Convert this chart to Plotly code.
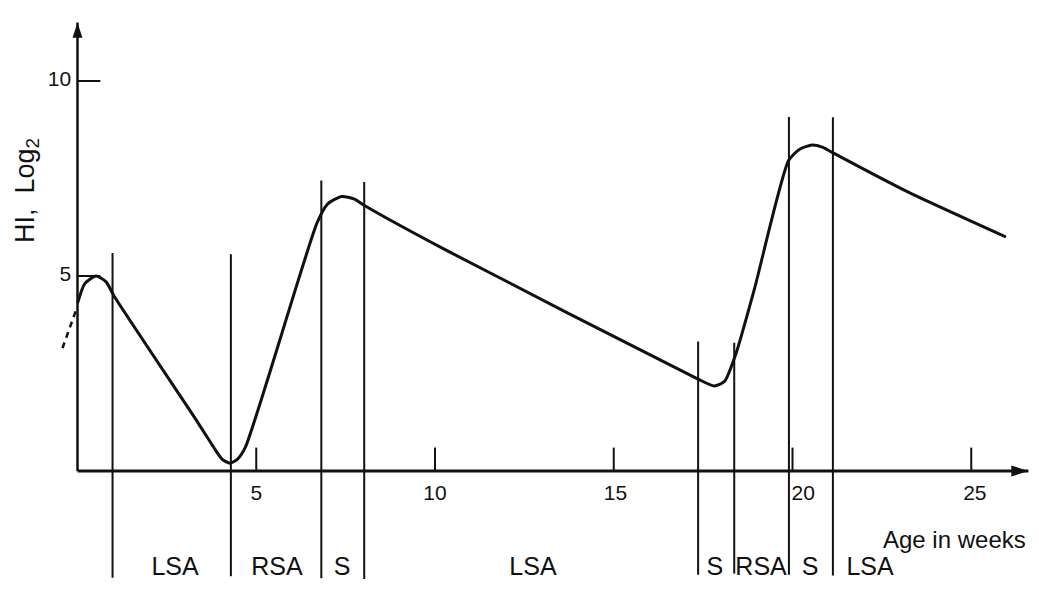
import plotly.graph_objects as go

# ---- data ----
curve_weeks = [0.0, 0.2, 0.52, 0.8, 1.04, 3.39, 3.85, 4.05, 4.26, 4.47, 4.7, 6.7, 7.0, 7.39, 7.75, 8.04,
               10.23, 17.33, 17.81, 18.1, 18.43, 18.93, 19.89, 20.2, 20.55, 20.85, 21.11, 23.24, 25.97]
curve_hi = [4.3, 4.8, 5.0, 4.85, 4.46, 1.21, 0.55, 0.3, 0.2, 0.3, 0.62, 6.36, 6.85, 7.04, 6.97, 6.8,
            5.70, 2.37, 2.18, 2.3, 3.04, 4.65, 7.96, 8.25, 8.36, 8.3, 8.17, 7.15, 6.0]

dashed_weeks = [-0.42, -0.05]
dashed_hi = [3.15, 4.1]

phase_line_weeks = [0.98, 4.29, 6.82, 8.02, 17.36, 18.37, 19.9, 21.13]
phase_line_top = [5.59, 5.56, 7.45, 7.41, 3.32, 3.29, 9.08, 9.07]
phase_line_bottom = [-2.74, -2.70, -2.75, -2.77, -2.66, -2.63, -2.66, -2.68]

phase_labels = ["LSA", "RSA", "S", "LSA", "S", "RSA", "S", "LSA"]
phase_label_weeks = [2.73, 5.58, 7.4, 12.74, 17.83, 19.12, 20.49, 22.17]

x_ticks = [5, 10, 15, 20, 25]
x_tick_labels = ["5", "10", "15", "20", "25"]
x_tick_label_pos = [5, 10, 15.05, 20.3, 25.1]

y_ticks = [5, 10]
y_tick_labels = ["5", "10"]

x_axis_end = 26.6
y_axis_end = 11.5

# ---- styling / layout geometry ----
INK = "#111111"
FONT = "Liberation Sans"
LABEL_Y = -2.5
TICK_LEN_X = 0.6
TICK_LEN_Y = 0.64
W, H = 1023, 578          # page body keeps an 8px margin
PX_W, PX_V = 35.75, 39.0  # pixels per week / per log2 unit
X0, Y0 = 69.5, 463.0      # figure pixel of the origin

fig = go.Figure()

# axes
fig.add_trace(go.Scatter(x=[0, x_axis_end], y=[0, 0], mode="lines",
                         line=dict(color=INK, width=3), hoverinfo="skip"))
fig.add_trace(go.Scatter(x=[0, 0], y=[0, y_axis_end], mode="lines",
                         line=dict(color=INK, width=2.5), hoverinfo="skip"))
# arrow heads
fig.add_trace(go.Scatter(x=[x_axis_end], y=[0], mode="markers",
                         marker=dict(symbol="arrow", angle=90, size=18, color=INK,
                                     line=dict(width=0)), hoverinfo="skip"))
fig.add_trace(go.Scatter(x=[0], y=[y_axis_end], mode="markers",
                         marker=dict(symbol="arrow", angle=0, size=16, color=INK,
                                     line=dict(width=0)), hoverinfo="skip"))

# x ticks
tx, ty = [], []
for t in x_ticks:
    tx += [t, t, None]
    ty += [0, TICK_LEN_X, None]
fig.add_trace(go.Scatter(x=tx, y=ty, mode="lines", line=dict(color=INK, width=2), hoverinfo="skip"))
fig.add_trace(go.Scatter(x=x_tick_label_pos, y=[-0.6] * len(x_ticks), mode="text",
                         text=x_tick_labels, textposition="middle center",
                         textfont=dict(family=FONT, size=21, color=INK), hoverinfo="skip"))

# y ticks
yx, yy = [], []
for t in y_ticks:
    yx += [0, TICK_LEN_Y, None]
    yy += [t, t, None]
fig.add_trace(go.Scatter(x=yx, y=yy, mode="lines", line=dict(color=INK, width=2), hoverinfo="skip"))
fig.add_trace(go.Scatter(x=[-0.18] * len(y_ticks), y=y_ticks, mode="text",
                         text=y_tick_labels, textposition="middle left",
                         textfont=dict(family=FONT, size=21, color=INK), hoverinfo="skip"))

# phase boundary lines
px, py = [], []
for w, top, bot in zip(phase_line_weeks, phase_line_top, phase_line_bottom):
    px += [w, w, None]
    py += [bot, top, None]
fig.add_trace(go.Scatter(x=px, y=py, mode="lines", line=dict(color=INK, width=2), hoverinfo="skip"))

# phase labels
fig.add_trace(go.Scatter(x=phase_label_weeks, y=[LABEL_Y] * len(phase_labels), mode="text",
                         text=phase_labels, textposition="middle center",
                         textfont=dict(family=FONT, size=25, color=INK), hoverinfo="skip"))

# curve
fig.add_trace(go.Scatter(x=curve_weeks, y=curve_hi, mode="lines",
                         line=dict(color=INK, width=3, shape="spline", smoothing=0.6),
                         hoverinfo="skip"))
fig.add_trace(go.Scatter(x=dashed_weeks, y=dashed_hi, mode="lines",
                         line=dict(color=INK, width=2.5, dash="6px,5px"), hoverinfo="skip"))

# axis titles
fig.add_annotation(x=26.6, y=-1.75, text="Age in weeks", showarrow=False,
                   font=dict(family=FONT, size=24, color=INK), xanchor="right", yanchor="middle")
fig.add_annotation(x=-1.42, y=7.2, text="HI,  Log<sub>2</sub>", showarrow=False, textangle=-90,
                   font=dict(family=FONT, size=27, color=INK), xanchor="center", yanchor="middle")

fig.update_layout(
    width=W, height=H,
    margin=dict(l=0, r=0, t=0, b=0),
    paper_bgcolor="white", plot_bgcolor="white",
    showlegend=False,
    xaxis=dict(visible=False, range=[-X0 / PX_W, (W - X0) / PX_W], fixedrange=True),
    yaxis=dict(visible=False, range=[-(H - Y0) / PX_V, Y0 / PX_V], fixedrange=True),
)

fig.write_html("out.html")
